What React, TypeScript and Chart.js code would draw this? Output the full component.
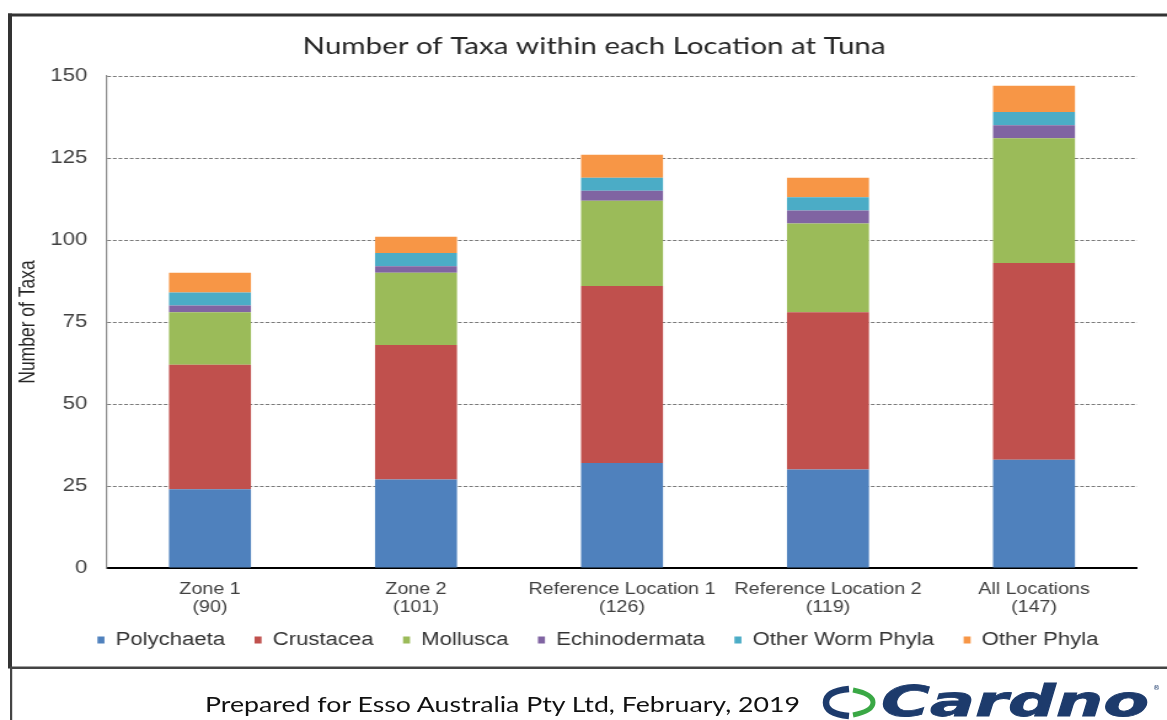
import React, { useEffect, useRef } from "react";
import { Chart, registerables } from "chart.js";

Chart.register(...registerables);

const TITLE = "Number of Taxa within each Location at Tuna";
const Y_TITLE = "Number of Taxa";
const categoryNames = ["Zone 1", "Zone 2", "Reference Location 1", "Reference Location 2", "All Locations"];
const categoryCounts = ["(90)", "(101)", "(126)", "(119)", "(147)"];
const polychaeta = [24, 27, 32, 30, 33];
const crustacea = [38, 41, 54, 48, 60];
const mollusca = [16, 22, 26, 27, 38];
const echinodermata = [2, 2, 3, 4, 4];
const otherWormPhyla = [4, 4, 4, 4, 4];
const otherPhyla = [6, 5, 7, 6, 8];
const yTicks = [0, 25, 50, 75, 100, 125, 150];

const seriesNames = ["Polychaeta", "Crustacea", "Mollusca", "Echinodermata", "Other Worm Phyla", "Other Phyla"];
const seriesValues = [polychaeta, crustacea, mollusca, echinodermata, otherWormPhyla, otherPhyla];
const seriesColors = ["#4F81BD", "#C0504D", "#9BBB59", "#8064A2", "#4BACC6", "#F79646"];

const PAGE_W = 1167;
const CW = 949; // logical canvas width
const SX = PAGE_W / CW; // horizontal stretch of the original picture
const CH = 680;

const TITLE_SHIFT = 16.8;
const LEGEND_SHIFT_X = 20;
const LEGEND_SHIFT_Y = -11;

const shiftPlugin = {
  id: "shiftBoxes",
  afterLayout(chart: any) {
    const t = chart.titleBlock;
    if (t) {
      t.left += TITLE_SHIFT;
      t.right += TITLE_SHIFT;
    }
    const l = chart.legend;
    if (l) {
      l.left += LEGEND_SHIFT_X;
      l.right += LEGEND_SHIFT_X;
      l.top += LEGEND_SHIFT_Y;
      l.bottom += LEGEND_SHIFT_Y;
    }
  },
};

export default function App() {
  const ref = useRef<HTMLCanvasElement | null>(null);

  useEffect(() => {
    if (!ref.current) return;
    const chart = new Chart(ref.current, {
      type: "bar",
      data: {
        labels: categoryNames.map((n, i) => [n, categoryCounts[i]]),
        datasets: seriesNames.map((name, i) => ({
          label: name,
          data: seriesValues[i],
          backgroundColor: seriesColors[i],
          borderWidth: 0,
          barPercentage: 0.398,
          categoryPercentage: 1,
        })),
      },
      plugins: [shiftPlugin],
      options: {
        responsive: false,
        animation: false,
        devicePixelRatio: 1,
        layout: { padding: { left: 8, right: 24.4, top: 16, bottom: 10 } },
        plugins: {
          title: {
            display: true,
            text: TITLE,
            color: "#262626",
            font: { family: "Lato", size: 24, weight: "normal", lineHeight: 1.2 },
            padding: { top: 15.6, bottom: 15.6 },
          },
          legend: {
            position: "bottom",
            labels: {
              boxWidth: 5.7,
              boxHeight: 7,
              padding: 24,
              color: "#333333",
              font: { family: "Liberation Sans", size: 18 },
            },
          },
          tooltip: { enabled: false },
        },
        scales: {
          x: {
            stacked: true,
            grid: { display: false, drawTicks: false },
            border: { display: true, color: "#000000", width: 2 },
            ticks: {
              color: "#404040",
              font: { family: "Liberation Sans", size: 16, lineHeight: 1.1 },
              padding: 13,
              maxRotation: 0,
              minRotation: 0,
              autoSkip: false,
            },
            afterFit: (s: any) => {
              s.height = 50;
            },
          },
          y: {
            stacked: true,
            min: yTicks[0],
            max: yTicks[yTicks.length - 1],
            afterBuildTicks: (s: any) => {
              s.ticks = yTicks.map((v) => ({ value: v }));
            },
            grid: {
              color: (ctx: any) => (ctx.tick && ctx.tick.value === 0 ? "rgba(0,0,0,0)" : "#7a7a7a"),
              drawTicks: false,
              lineWidth: 1,
            },
            border: { display: true, color: "#8c8c8c", width: 1.2, dash: [3, 1.6] },
            ticks: {
              color: "#404040",
              font: { family: "Liberation Sans", size: 18 },
              padding: 16,
            },
            title: {
              display: true,
              text: Y_TITLE,
              color: "#262626",
              font: { family: "Liberation Sans", size: 17.5, lineHeight: 1.2 },
              padding: { top: 5, bottom: 0 },
            },
            afterFit: (s: any) => {
              s.width = 79;
            },
          },
        },
      } as any,
    });
    return () => chart.destroy();
  }, []);

  return (
    <div
      style={{
        position: "absolute",
        left: 0,
        top: 0,
        width: PAGE_W,
        height: 720,
        overflow: "hidden",
        background: "#ffffff",
      }}
    >
      <div
        style={{
          position: "absolute",
          left: 0,
          top: 0,
          width: CW,
          height: CH,
          transform: `scaleX(${SX})`,
          transformOrigin: "0 0",
        }}
      >
        <canvas ref={ref} width={CW} height={CH} style={{ width: CW, height: CH, display: "block" }} />
      </div>
      <svg
        width={PAGE_W}
        height={720}
        style={{ position: "absolute", left: 0, top: 0, pointerEvents: "none" }}
      >
        <rect x={8} y={13.5} width={1170} height={3} fill="#333333" />
        <rect x={8} y={13.5} width={4} height={655} fill="#333333" />
        <rect x={10} y={666.5} width={1170} height={2.5} fill="#444444" />
        <rect x={12} y={669} width={1160} height={51} fill="#ffffff" />
        <rect x={10} y={668} width={2.2} height={52} fill="#444444" />
        <text
          x={205}
          y={712}
          fontFamily="Lato"
          fontSize={22}
          textLength={595}
          lengthAdjust="spacingAndGlyphs"
          fill="#111111"
        >
          Prepared for Esso Australia Pty Ltd, February, 2019
        </text>
        <path d="M 849 689 Q 826 691 826 702.5 Q 826 714 849 716" stroke="#1d3b6c" strokeWidth={6.5} fill="none" />
        <path d="M 853 690 Q 873 694 873 702.5 Q 873 711 853 715" stroke="#3aa845" strokeWidth={5} fill="none" />
        <text
          x={881}
          y={716}
          fontFamily="DejaVu Sans"
          fontWeight="bold"
          fontStyle="italic"
          fontSize={42}
          textLength={268}
          lengthAdjust="spacingAndGlyphs"
          fill="#1d3b6c"
          stroke="#1d3b6c"
          strokeWidth={0.8}
        >
          Cardno
        </text>
        <text x={1153} y={690} fontFamily="DejaVu Sans" fontSize={7} fill="#1d3b6c">
          ®
        </text>
      </svg>
    </div>
  );
}
